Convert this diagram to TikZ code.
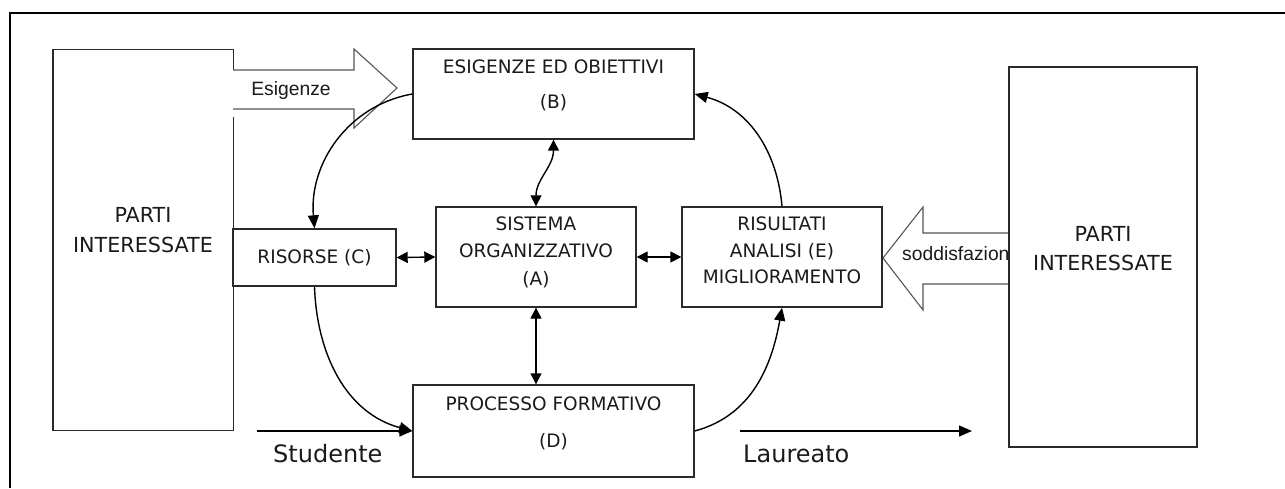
\documentclass[tikz,border=0pt]{standalone}
\usepackage{fontspec}
\setmainfont{DejaVu Sans}
\newfontfamily\arialfont{Liberation Sans}
\usetikzlibrary{arrows.meta}
\definecolor{boxgray}{HTML}{2A2A2A}
\definecolor{arrgray}{HTML}{555555}
\definecolor{txtgray}{HTML}{1A1A1A}
\begin{document}
\begin{tikzpicture}[x=1pt,y=1pt,
  box/.style={draw=boxgray, line width=1.4pt, fill=white, inner sep=0pt, rectangle},
  boxline/.style={draw=boxgray, line width=1.4pt},
  lbl/.style={anchor=base, inner sep=0pt, text=txtgray, font=\fontsize{18.5}{20}\selectfont},
  biglbl/.style={anchor=base, inner sep=0pt, text=txtgray, font=\fontsize{20.7}{22}\selectfont},
  flowlbl/.style={anchor=base west, inner sep=0pt, text=txtgray, font=\fontsize{24}{26}\selectfont},
  arrlbl/.style={inner sep=0pt, text=txtgray, font=\arialfont\fontsize{19.3}{21}\selectfont},
  conn/.style={line width=1.4pt, -{Triangle[length=13pt,width=11pt]}},
  dconn/.style={line width=1.4pt, {Triangle[length=11pt,width=11pt]}-{Triangle[length=11pt,width=11pt]}},
  blockarrow/.style={draw=arrgray, line width=1.1pt, fill=white}
]
\useasboundingbox (0,0) rectangle (1285,488);
% outer frame
\coordinate (F1) at (10,0);
\coordinate (F2) at (10,475);
\coordinate (F3) at (1285,475);
\draw[line width=2.2pt] (F1) -- (F2) -- (F3);

% left box (outline drawn separately with gap)
\node[inner sep=0pt, minimum width=180pt, minimum height=380pt] (L) at (143,248) {};
\draw[boxline] ([yshift=-20pt]L.north east) -- (L.north east) -- (L.north west) -- (L.south west) -- (L.south east) -- ([yshift=-67pt]L.north east);
\node[biglbl] (Lt1) at (143,265) {PARTI};
\node[biglbl] (Lt2) at (143,236) {INTERESSATE};

% Esigenze block arrow
\draw[blockarrow] (233,418) -- (354,418) -- (354,439) -- (397,400) -- (354,360) -- (354,379) -- (233,379);
\node[arrlbl, anchor=base] (Esig) at (291,392.3) {Esigenze};

% right block arrow
\draw[blockarrow] (1009,255) -- (923,255) -- (923,281) -- (883,230) -- (923,178) -- (923,204) -- (1009,204);
\node[arrlbl, anchor=base west] (Sodd) at (902,228) {soddisfazion};

% right box
\node[box, minimum width=188pt, minimum height=380pt] (R) at (1103,231) {};
\node[biglbl] (Rt1) at (1103,246) {PARTI};
\node[biglbl] (Rt2) at (1103,218) {INTERESSATE};

% B
\node[box, minimum width=281pt, minimum height=90pt] (B) at (553.5,394) {};
\node[lbl] (Bt1) at (553.5,414) {ESIGENZE ED OBIETTIVI};
\node[lbl] (Bt2) at (553.5,379) {(B)};

% A
\node[box, minimum width=200pt, minimum height=100pt] (A) at (536,231) {};
\node[lbl] (At1) at (536,257) {SISTEMA};
\node[lbl] (At2) at (536,230) {ORGANIZZATIVO};
\node[lbl] (At3) at (536,203) {(A)};

% E
\node[box, minimum width=200pt, minimum height=100pt] (E) at (782,231) {};
\node[lbl] (Et1) at (782,257) {RISULTATI};
\node[lbl] (Et2) at (782,231) {ANALISI (E)};
\node[lbl] (Et3) at (782,205) {MIGLIORAMENTO};

% C
\node[box, minimum width=163pt, minimum height=57pt] (C) at (314.5,230.5) {};
\node[lbl] (Ct) at (314.5,225) {RISORSE (C)};

% D
\node[box, minimum width=281pt, minimum height=92pt] (D) at (553.5,57) {};
\node[lbl] (Dt1) at (553.5,78) {PROCESSO FORMATIVO};
\node[lbl] (Dt2) at (553.5,41) {(D)};

% flow labels
\coordinate (Sin) at (257,57);
\coordinate (Lout1) at (740,57);
\coordinate (Lout2) at (972,57);
\node[flowlbl] (Stud) at (273,26) {Studente};
\node[flowlbl] (Laur) at (743,26) {Laureato};

% connectors
\draw[conn] (B.west) to[out=190,in=95] (C.north);
\draw[conn] (C.south) to[out=-88,in=165] (D.west);
\draw[conn] (Sin) -- (D.west);
\draw[conn] (D.east) to[out=15,in=-100] (E.south);
\draw[conn] (E.north) to[out=95,in=-15] (B.east);
\draw[conn] (Lout1) -- (Lout2);
\draw[dconn] (B.south) to[out=-90,in=90] (A.north);
\draw[dconn] (C.east) -- (A.west);
\draw[dconn] (A.east) -- (E.west);
\draw[dconn] (A.south) -- (A.south |- D.north);
\end{tikzpicture}
\end{document}
